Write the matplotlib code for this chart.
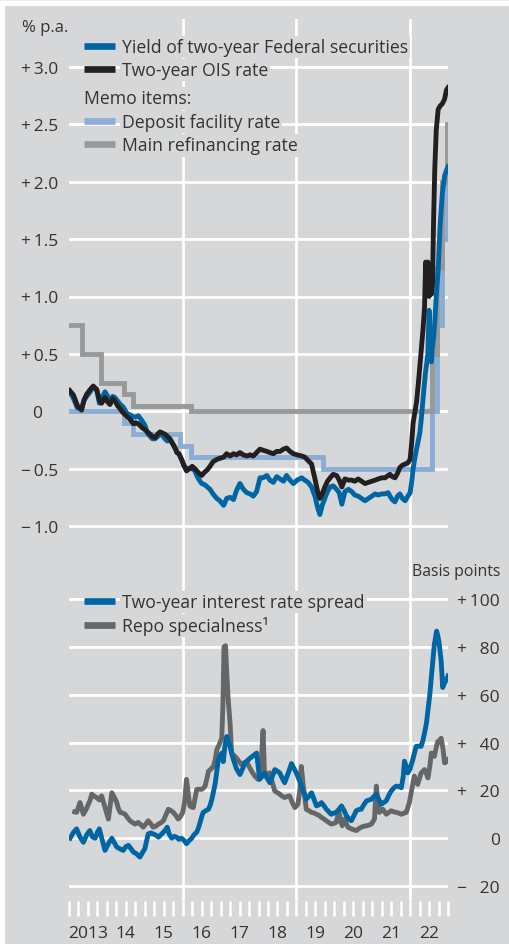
import matplotlib
matplotlib.use("Agg")
import matplotlib.pyplot as plt
from matplotlib.patches import Rectangle
from matplotlib.lines import Line2D
from matplotlib.ticker import FixedLocator, FixedFormatter, NullFormatter
import numpy as np

plt.rcParams['font.family'] = ['Open Sans', 'DejaVu Sans']

# ---------------- data ----------------
top_t = [2013.02, 2013.12, 2013.22, 2013.33, 2013.40, 2013.47, 2013.56, 2013.64, 2013.73, 2013.80, 2013.86, 2013.95,
         2014.02, 2014.08, 2014.15, 2014.21, 2014.28, 2014.35, 2014.42, 2014.48, 2014.55, 2014.61, 2014.70, 2014.76, 2014.83, 2014.92,
         2015.00, 2015.07, 2015.14, 2015.20, 2015.27, 2015.34, 2015.40, 2015.47, 2015.53, 2015.60, 2015.66, 2015.73, 2015.80, 2015.85, 2015.90, 2015.97,
         2016.03, 2016.10, 2016.18, 2016.25, 2016.32, 2016.40, 2016.50, 2016.58, 2016.65, 2016.72, 2016.80, 2016.90, 2016.98,
         2017.08, 2017.16, 2017.25, 2017.34, 2017.42, 2017.51, 2017.60, 2017.69, 2017.78, 2017.86, 2017.95,
         2018.04, 2018.12, 2018.22, 2018.30, 2018.39, 2018.48, 2018.57, 2018.66, 2018.74, 2018.83, 2018.92,
         2019.02, 2019.14, 2019.22, 2019.31, 2019.40, 2019.49, 2019.56, 2019.62, 2019.68, 2019.75, 2019.82, 2019.89, 2019.97,
         2020.06, 2020.13, 2020.20, 2020.28, 2020.37, 2020.46, 2020.54, 2020.63, 2020.72, 2020.81, 2020.90, 2020.99,
         2021.08, 2021.16, 2021.25, 2021.34, 2021.42, 2021.47, 2021.53, 2021.60, 2021.67, 2021.73, 2021.80, 2021.87, 2021.94,
         2022.00, 2022.04, 2022.08, 2022.13, 2022.17, 2022.22, 2022.26, 2022.30, 2022.34,
         2022.38, 2022.41, 2022.44, 2022.47, 2022.50, 2022.53, 2022.56, 2022.59, 2022.62, 2022.65, 2022.69, 2022.74,
         2022.79, 2022.85, 2022.91, 2022.96, 2023.00]

ois_rate = [0.18, 0.14, 0.05, 0.01, 0.10, 0.15, 0.19, 0.22, 0.19, 0.10, 0.07, 0.12,
            0.08, 0.06, 0.11, 0.09, 0.05, 0.02, -0.01, -0.03, -0.05, -0.07, -0.11, -0.10, -0.11, -0.14,
            -0.16, -0.18, -0.20, -0.22, -0.23, -0.20, -0.18, -0.19, -0.20, -0.22, -0.24, -0.28, -0.32, -0.36, -0.37, -0.42,
            -0.47, -0.52, -0.50, -0.48, -0.50, -0.53, -0.56, -0.53, -0.51, -0.48, -0.44, -0.42, -0.41,
            -0.40, -0.37, -0.39, -0.37, -0.38, -0.36, -0.38, -0.39, -0.38, -0.39, -0.36,
            -0.33, -0.34, -0.35, -0.36, -0.37, -0.35, -0.35, -0.33, -0.32, -0.35, -0.37,
            -0.38, -0.39, -0.40, -0.43, -0.46, -0.59, -0.70, -0.76, -0.72, -0.66, -0.61, -0.58, -0.55,
            -0.56, -0.60, -0.66, -0.59, -0.60, -0.60, -0.61, -0.59, -0.61, -0.63, -0.62, -0.61,
            -0.60, -0.59, -0.58, -0.58, -0.56, -0.55, -0.57, -0.58, -0.54, -0.49, -0.47, -0.46, -0.45,
            -0.42, -0.28, -0.10, 0.00, 0.08, 0.25, 0.40, 0.55, 0.71,
            0.90, 1.30, 1.05, 1.30, 1.00, 1.28, 1.02, 1.10, 1.67, 2.10, 2.45, 2.63,
            2.66, 2.68, 2.72, 2.80, 2.82]

bund_yield = [0.17, 0.11, 0.03, 0.02, 0.10, 0.13, 0.17, 0.21, 0.19, 0.07, 0.11, 0.17,
              0.13, 0.06, 0.13, 0.12, 0.09, 0.06, 0.04, 0.01, -0.03, -0.03, -0.05, -0.05, -0.04, -0.08,
              -0.12, -0.19, -0.22, -0.24, -0.24, -0.22, -0.20, -0.21, -0.24, -0.26, -0.24, -0.28, -0.32, -0.36, -0.37, -0.42,
              -0.47, -0.50, -0.50, -0.50, -0.52, -0.58, -0.63, -0.64, -0.66, -0.68, -0.72, -0.76, -0.78,
              -0.82, -0.76, -0.75, -0.77, -0.69, -0.63, -0.68, -0.71, -0.72, -0.74, -0.70,
              -0.58, -0.58, -0.56, -0.60, -0.62, -0.57, -0.59, -0.61, -0.56, -0.60, -0.63,
              -0.60, -0.58, -0.60, -0.62, -0.66, -0.74, -0.84, -0.90, -0.82, -0.76, -0.70, -0.66, -0.65,
              -0.68, -0.71, -0.81, -0.70, -0.68, -0.70, -0.73, -0.74, -0.76, -0.78, -0.76, -0.74,
              -0.72, -0.73, -0.72, -0.72, -0.71, -0.74, -0.77, -0.79, -0.74, -0.72, -0.76, -0.78, -0.74,
              -0.71, -0.62, -0.50, -0.40, -0.33, -0.25, -0.18, -0.05, 0.10,
              0.25, 0.35, 0.42, 0.50, 0.88, 0.60, 0.43, 0.55, 0.65, 0.77, 1.00, 1.23,
              1.61, 1.90, 2.05, 2.10, 2.13]

dfr_t = [2013.00, 2014.44, 2014.70, 2015.93, 2016.21, 2019.71, 2022.57, 2022.70, 2022.84, 2022.97, 2023.00]
dfr_rate = [0.00, -0.10, -0.20, -0.30, -0.40, -0.50, 0.00, 0.75, 1.50, 2.00, 2.00]

mro_t = [2013.00, 2013.35, 2013.85, 2014.44, 2014.70, 2016.21, 2022.57, 2022.70, 2022.84, 2022.97, 2023.00]
mro_rate = [0.75, 0.50, 0.25, 0.15, 0.05, 0.00, 0.50, 1.25, 2.00, 2.50, 2.50]

spread_t = [2013.03, 2013.12, 2013.20, 2013.29, 2013.38, 2013.47, 2013.55, 2013.62, 2013.69, 2013.75, 2013.80, 2013.88, 2013.95,
            2014.05, 2014.13, 2014.20, 2014.26, 2014.35, 2014.43, 2014.50, 2014.57, 2014.64, 2014.70, 2014.78, 2014.87, 2014.94,
            2015.00, 2015.05, 2015.09, 2015.16, 2015.22, 2015.30, 2015.36, 2015.43, 2015.49, 2015.55, 2015.59, 2015.65, 2015.71,
            2015.78, 2015.84, 2015.90, 2015.97, 2016.04, 2016.10, 2016.17, 2016.24, 2016.30, 2016.37, 2016.42, 2016.46, 2016.50,
            2016.54, 2016.61, 2016.68, 2016.73, 2016.77, 2016.82, 2016.86, 2016.90, 2016.94, 2017.00, 2017.03, 2017.07, 2017.11,
            2017.16, 2017.21, 2017.25, 2017.30, 2017.34, 2017.42, 2017.51, 2017.58, 2017.64, 2017.71, 2017.78, 2017.86, 2017.95,
            2018.03, 2018.10, 2018.16, 2018.23, 2018.30, 2018.37, 2018.43, 2018.50, 2018.56, 2018.63, 2018.69, 2018.78, 2018.87,
            2018.94, 2019.00, 2019.07, 2019.13, 2019.20, 2019.26, 2019.33, 2019.40, 2019.47, 2019.53, 2019.60, 2019.66, 2019.73,
            2019.79, 2019.86, 2019.92, 2019.99, 2020.05, 2020.12, 2020.19, 2020.26, 2020.32, 2020.39, 2020.45, 2020.52, 2020.58,
            2020.65, 2020.71, 2020.78, 2020.85, 2020.92, 2020.98, 2021.05, 2021.11, 2021.18, 2021.24, 2021.31, 2021.37, 2021.44,
            2021.50, 2021.57, 2021.64, 2021.71, 2021.77, 2021.82, 2021.85, 2021.90, 2021.94, 2022.00, 2022.07, 2022.12, 2022.16,
            2022.22, 2022.29, 2022.34, 2022.38, 2022.43, 2022.47, 2022.52, 2022.56, 2022.60, 2022.64, 2022.70, 2022.74, 2022.77,
            2022.82, 2022.86, 2022.91, 2022.95, 2023.00]
spread_bp = [0, 2.5, 3.9, 0.5, -1.7, 1.5, 3.2, 0.5, 0, 2.5, 3.9, -1, -5.1,
             -2, 0, -2, -3.7, -4.5, -5.1, -3.5, -3, -4.5, -5.8, -6.5, -7.9, -6,
             -4.4, -1, 1.8, 2.2, 1.8, 1.2, 0.4, 1.5, 2.5, 3.5, 4.6, 1.5, 0,
             0.8, 0.4, -0.5, 0, -1, -2.3, -1, 0, 1.5, 2.5, 4.5, 6.6, 9,
             10.8, 11.5, 12.1, 14, 16.3, 20, 23.2, 28, 32.8, 35, 35.6, 32, 38,
             42.5, 40, 38.4, 35, 32.8, 29, 26.6, 29, 31.5, 32.5, 33.5, 34.5, 35.6,
             24.6, 26, 27.3, 25, 23.2, 26, 28.7, 28, 27.3, 25, 23.2, 27, 31.2,
             29, 27.3, 24.5, 21.8, 19, 16.3, 17.5, 19, 16, 13.5, 14, 14.9, 13.5,
             12.1, 11, 10, 10.5, 10.8, 12, 13.5, 11.5, 9.4, 8, 7.3, 9.5, 11.5,
             12, 12.1, 14, 15.6, 16, 16.3, 17.5, 18.4, 16, 14.2, 15, 15.6, 18,
             19.7, 21, 21.8, 21.5, 21.1, 26, 32.2, 30, 27.3, 29, 32.8, 36, 38.4,
             38.5, 38.4, 41, 43.9, 48, 53.5, 60, 67.3, 74, 81, 86.6, 84, 81,
             74, 63, 65, 66, 67.8]

repo_t = [2013.15, 2013.20, 2013.25, 2013.29, 2013.38, 2013.45, 2013.51, 2013.56, 2013.60, 2013.67, 2013.73, 2013.80, 2013.86,
          2013.91, 2013.95, 2014.00, 2014.04, 2014.09, 2014.13, 2014.20, 2014.26, 2014.30, 2014.35, 2014.42, 2014.48, 2014.55,
          2014.61, 2014.68, 2014.74, 2014.83, 2014.90, 2014.96, 2015.03, 2015.09, 2015.16, 2015.22, 2015.29, 2015.36, 2015.43,
          2015.49, 2015.55, 2015.62, 2015.69, 2015.75, 2015.82, 2015.88, 2015.94, 2016.00, 2016.05, 2016.10, 2016.15, 2016.19,
          2016.24, 2016.28, 2016.33, 2016.37, 2016.44, 2016.50, 2016.55, 2016.59, 2016.64, 2016.68, 2016.75, 2016.81, 2016.86,
          2016.90, 2016.96, 2017.03, 2017.06, 2017.09, 2017.13, 2017.16, 2017.20, 2017.25, 2017.29, 2017.36, 2017.42, 2017.49,
          2017.55, 2017.62, 2017.69, 2017.75, 2017.82, 2017.90, 2017.99, 2018.06, 2018.12, 2018.16, 2018.23, 2018.30, 2018.37,
          2018.43, 2018.50, 2018.56, 2018.63, 2018.69, 2018.76, 2018.82, 2018.89, 2018.96, 2019.04, 2019.09, 2019.13, 2019.18,
          2019.22, 2019.26, 2019.33, 2019.40, 2019.47, 2019.53, 2019.60, 2019.66, 2019.73, 2019.79, 2019.86, 2019.92, 2019.99,
          2020.05, 2020.12, 2020.17, 2020.21, 2020.27, 2020.32, 2020.36, 2020.45, 2020.52, 2020.58, 2020.65, 2020.71, 2020.78,
          2020.85, 2020.92, 2020.98, 2021.06, 2021.11, 2021.15, 2021.19, 2021.24, 2021.28, 2021.33, 2021.37, 2021.44, 2021.50,
          2021.57, 2021.64, 2021.70, 2021.77, 2021.84, 2021.90, 2021.98, 2022.04, 2022.11, 2022.16, 2022.20, 2022.25, 2022.29,
          2022.34, 2022.38, 2022.43, 2022.47, 2022.52, 2022.56, 2022.60, 2022.64, 2022.69, 2022.73, 2022.78, 2022.82, 2022.87,
          2022.91, 2022.96, 2023.00]
repo_bp = [11, 10.8, 13, 14.9, 10, 12, 14.2, 16, 18.4, 17.5, 17, 16, 17.7,
           15, 12.8, 10, 8, 14, 19, 17, 14.9, 12.5, 10.8, 10.5, 10, 8.5,
           7.3, 6.5, 5.9, 6.6, 5.5, 4.6, 6, 7.3, 6, 4.6, 5, 5.9, 6.5,
           7.3, 9.5, 12.1, 11.5, 10.8, 9.5, 8, 9, 10.8, 15, 24.6, 18, 13.5,
           13, 12.8, 17, 20.4, 20.5, 20.4, 21, 21.8, 25, 28, 29, 30, 33,
           37, 39, 41.8, 55, 80, 80.5, 70, 58, 48, 35.6, 34.5, 33.5, 32,
           30.8, 31.5, 32, 30, 28, 26, 24.6, 28, 45, 26, 27, 27.3, 23,
           19.7, 19, 18.4, 17.5, 17, 17.5, 17.7, 15, 12.8, 14.2, 20, 30, 22,
           17.7, 12.1, 11.5, 10.8, 10.5, 10, 9.5, 8.7, 8, 7.3, 6.5, 5.9, 6.2,
           6.6, 11.5, 7, 5.2, 8, 6, 4.6, 3.9, 3.5, 3.2, 4, 4.6, 5,
           5.2, 5.5, 5.9, 8, 21.8, 15, 10.8, 11.5, 12.1, 11, 10, 10.8, 11.5,
           11, 10.8, 10.5, 10, 10.5, 10.8, 14.9, 20, 26, 24, 22.5, 25, 27.3,
           28, 28.7, 27, 25.2, 30, 35.6, 35, 34.2, 38, 40.4, 41, 41.8, 37,
           31.5, 32, 32.8]

top_yticks = [-1.0, -0.5, 0.0, 0.5, 1.0, 1.5, 2.0, 2.5, 3.0]
top_ylabels = ['\u2212\u20091.0', '\u2212\u20090.5', '0\u2008\u2007', '+\u20090.5', '+\u20091.0',
               '+\u20091.5', '+\u20092.0', '+\u20092.5', '+\u20093.0']
bot_yticks = [-20, 0, 20, 40, 60, 80, 100]
bot_ylabels = ['\u2212\u2009\u200720', '0', '+\u2009\u200720', '+\u2009\u200740', '+\u2009\u200760',
               '+\u2009\u200780', '+\u2009100']
year_pos = [2013.5, 2014.5, 2015.5, 2016.5, 2017.5, 2018.5, 2019.5, 2020.5, 2021.5, 2022.5]
year_labels = ['2013', '14', '15', '16', '17', '18', '19', '20', '21', '22']
grid_years = [2016, 2019, 2022]

# ---------------- style ----------------
BG = '#d6d7d9'
TXT = '#333333'
C_BLUE = '#0066a3'
C_BLACK = '#231f20'
C_DFR = '#8badd5'
C_MRO = '#98999b'
C_REPO = '#656668'
FS = 12.5       # tick labels
FSL = 12.7      # legend
LW = 3.5

W, H = 510, 945
fig = plt.figure(figsize=(W / 100, H / 100), dpi=100)
fig.patch.set_facecolor('white')
fig.add_artist(Rectangle((0, 1 - 2 / H), 1, 2 / H, transform=fig.transFigure,
                         facecolor='#eeeeee', edgecolor='none', zorder=-10))
fig.add_artist(Rectangle((5 / W, 0), 1, (H - 7) / H, transform=fig.transFigure,
                         facecolor=BG, edgecolor='none', zorder=-10))


def fx(px):
    return px / W


def fy(py):
    return 1 - py / H


XL, XR = 69, 448
# background axes carrying the vertical grid lines
axbg = fig.add_axes([fx(XL), fy(902), fx(XR - XL), (902 - 20) / H])
axbg.set_facecolor('none')
axbg.set_xlim(2013, 2023)
axbg.set_ylim(0, 1)
axbg.set_xticks(grid_years)
axbg.set_yticks([])
axbg.tick_params(length=0, labelbottom=False)
axbg.grid(axis='x', color='white', lw=2)
for s in axbg.spines.values():
    s.set_visible(False)

# top axes
y0_top, scale_top = 412.25, 114.75
ax1 = fig.add_axes([fx(XL), fy(545), fx(XR - XL), (545 - 20) / H])
ax1.set_facecolor('none')
ax1.set_xlim(2013, 2023)
ax1.set_ylim(-(545 - y0_top) / scale_top, (y0_top - 20) / scale_top)
ax1.set_xticks([])
ax1.set_yticks(top_yticks)
ax1.set_yticklabels(top_ylabels, fontsize=FS, color=TXT)
ax1.tick_params(axis='y', length=0, pad=8)
ax1.grid(axis='y', color='white', lw=2)
ax1.set_axisbelow(True)
for s in ax1.spines.values():
    s.set_visible(False)

ax1.plot(dfr_t, dfr_rate, drawstyle='steps-post', color=C_DFR, lw=LW, solid_joinstyle='miter')
ax1.plot(mro_t, mro_rate, drawstyle='steps-post', color=C_MRO, lw=LW, solid_joinstyle='miter')
ax1.plot(top_t, bund_yield, color=C_BLUE, lw=LW, solid_joinstyle='round')
ax1.plot(top_t, ois_rate, color=C_BLACK, lw=LW, solid_joinstyle='round')


def make_handle(c):
    return Line2D([], [], color=c, lw=4.8, solid_capstyle='butt')


def style_legend(leg):
    for t in leg.get_texts():
        t.set_color(TXT)
        t.set_bbox(dict(boxstyle='square,pad=0.12', facecolor=BG, edgecolor='none'))


LEG_KW = dict(loc='upper left', bbox_transform=fig.transFigure, frameon=False, fontsize=FSL,
              handlelength=1.76, handletextpad=0.40, labelspacing=0.31, borderpad=0, borderaxespad=0)

leg1 = ax1.legend([make_handle(C_BLUE), make_handle(C_BLACK)],
                  ['Yield of two-year Federal securities', 'Two-year OIS rate'],
                  bbox_to_anchor=(fx(84), fy(38.7)), **LEG_KW)
style_legend(leg1)
ax1.add_artist(leg1)

leg2 = ax1.legend([make_handle(C_DFR), make_handle(C_MRO)],
                  ['Deposit facility rate', 'Main refinancing rate'],
                  title='Memo items:', title_fontsize=FSL, alignment='left',
                  bbox_to_anchor=(fx(84), fy(90.5)), **LEG_KW)
style_legend(leg2)
leg2.get_title().set_color(TXT)
leg2.get_title().set_bbox(dict(boxstyle='square,pad=0.12', facecolor=BG, edgecolor='none'))

# bottom axes
y0_bot, scale_bot = 839.2, 287 / 120
ax2 = fig.add_axes([fx(XL), fy(902), fx(XR - XL), (902 - 585) / H])
ax2.set_facecolor('none')
ax2.set_xlim(2013, 2023)
ax2.set_ylim(-(902 - y0_bot) / scale_bot, (y0_bot - 585) / scale_bot)
ax2.set_yticks(bot_yticks)
ax2.set_yticklabels(bot_ylabels, fontsize=FS, color=TXT)
ax2.yaxis.tick_right()
ax2.tick_params(axis='y', length=0, pad=37.4)
for lab in ax2.get_yticklabels():
    lab.set_horizontalalignment('right')
ax2.grid(axis='y', color='white', lw=2)
ax2.set_axisbelow(True)
for s in ax2.spines.values():
    s.set_visible(False)

# year labels as major ticks (no marks), quarterly white marks as minor ticks
ax2.xaxis.remove_overlapping_locs = False
ax2.xaxis.set_major_locator(FixedLocator(year_pos))
ax2.xaxis.set_major_formatter(FixedFormatter(year_labels))
ax2.xaxis.set_minor_locator(FixedLocator(list(np.arange(2013, 2023.001, 0.25))))
ax2.xaxis.set_minor_formatter(NullFormatter())
ax2.tick_params(axis='x', which='major', length=0, pad=17.6, labelsize=FS, labelcolor=TXT)
ax2.tick_params(axis='x', which='minor', direction='out', length=10.8, width=1.9, color='white')

ax2.plot(repo_t, repo_bp, color=C_REPO, lw=LW, solid_joinstyle='round')
ax2.plot(spread_t, spread_bp, color=C_BLUE, lw=LW, solid_joinstyle='round')

leg3 = ax2.legend([make_handle(C_BLUE), make_handle(C_REPO)],
                  ['Two-year interest rate spread', 'Repo specialness\u00b9'],
                  bbox_to_anchor=(fx(84), fy(593.7)), **LEG_KW)
style_legend(leg3)

fig.text(fx(22), fy(28), '% p.a.', fontsize=12, color=TXT, ha='left', va='center')
fig.text(fx(500), fy(572), 'Basis points', fontsize=11.4, color=TXT, ha='right', va='center')

fig.savefig('out.png', dpi=100, facecolor=fig.get_facecolor())
